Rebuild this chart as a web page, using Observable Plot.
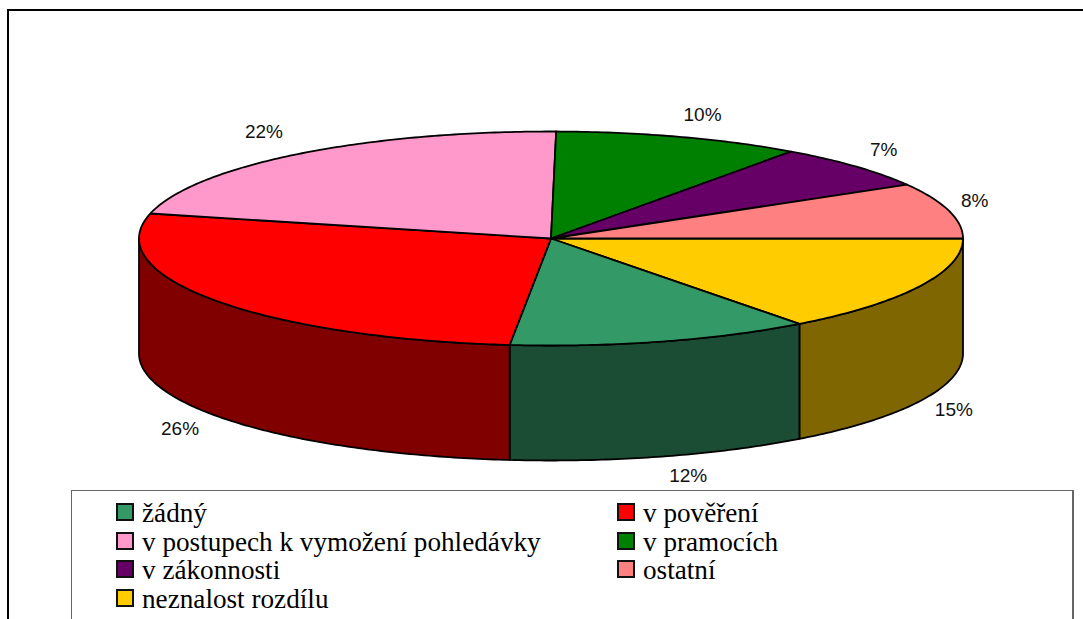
<!DOCTYPE html>
<html>
<head>
<meta charset="utf-8">
<script src="https://cdn.jsdelivr.net/npm/d3@7"></script>
<script src="https://cdn.jsdelivr.net/npm/@observablehq/plot@0.6"></script>
<style>
html,body{margin:0;padding:0;background:#fff;overflow:hidden;width:1083px;height:619px}
#frame{position:absolute;left:7px;top:9px;width:1200px;height:640px;border:2px solid #000;border-bottom:none;box-sizing:border-box;pointer-events:none}
#chart{position:absolute;left:0;top:0}
#legend{position:absolute;left:71px;top:490px;width:1003px;height:140px;border:solid #666;border-width:1.5px 2px 0 1.5px;box-sizing:border-box;background:#fff;font-family:"Liberation Serif",serif;font-size:27.2px;color:#000}
.item{position:absolute;height:29px;line-height:29px;white-space:nowrap}
.sw{position:absolute;left:0;top:4px;width:14px;height:14px;border:2px solid #111;box-sizing:content-box}
.item span.t{position:absolute;left:26px;top:0}
</style>
</head>
<body>
<div id="chart"></div>
<div id="legend"></div>
<div id="frame"></div>
<script>
// Slices, clockwise from the 3 o'clock position
const categories = ["neznalost rozdílu","žádný","v pověření","v postupech k vymožení pohledávky","v pramocích","v zákonnosti","ostatní"];
const shares     = [14.7, 11.9, 27.15, 21.45, 9.7, 6.7, 8.4];   // drawn share of the circle
const percentLabels = ["15%","12%","26%","22%","10%","7%","8%"]; // printed labels
const topColors  = ["#ffcc00","#339966","#ff0000","#ff99cc","#008000","#660066","#ff8080"];
const sideColors = ["#806600","#1a4d33","#800000","#804d66","#004000","#330033","#804040"];
const legendOrder = ["žádný","v pověření","v postupech k vymožení pohledávky","v pramocích","v zákonnosti","ostatní","neznalost rozdílu"];
const labelNudgeX = [34, 26, -35, -34, 23, 28, 26];
const labelNudgeY = [9, 19, 13, -22, -22, -17, -10];

// Layout (pie geometry in unit-ellipse coordinates)
const depth = 115 / 107;
const total = d3.sum(shares);
const toAngle = s => s / total * 2 * Math.PI;
const pt = a => [Math.cos(a), -Math.sin(a)];

let acc = 0;
const slices = shares.map((s, i) => {
  const a0 = toAngle(acc); acc += s; const a1 = toAngle(acc);
  return {i, a0, a1, mid: (a0 + a1) / 2};
});
const arc = (a0, a1) => {
  const n = Math.max(2, Math.ceil((a1 - a0) * 80));
  return d3.range(n + 1).map(k => a0 + (a1 - a0) * k / n);
};

const topRows = [], sideRows = [];
for (const s of slices) {
  const top = [[0, 0], ...arc(s.a0, s.a1).map(pt), [0, 0]];
  for (const [x, y] of top) topRows.push({x, y, key: "t" + s.i, color: topColors[s.i]});
  const b0 = s.a0, b1 = Math.min(s.a1, Math.PI);
  if (b0 < b1) {
    const a = arc(b0, b1);
    const ring = [...a.map(pt), ...a.slice().reverse().map(v => { const [x, y] = pt(v); return [x, y - depth]; })];
    ring.push(ring[0]);
    for (const [x, y] of ring) sideRows.push({x, y, key: "s" + s.i, color: sideColors[s.i]});
  }
}

const faceOpts = {x: "x", y: "y", z: "key", fill: "color", stroke: "#000", strokeWidth: 1.8, strokeLinejoin: "round", curve: "linear"};
const labelMarks = slices.map(s => {
  const [x, y] = pt(s.mid);
  const front = s.mid < Math.PI;
  return Plot.text([percentLabels[s.i]], {
    x: () => x, y: () => front ? y - depth : y, text: d => d,
    dx: labelNudgeX[s.i], dy: labelNudgeY[s.i],
    fontFamily: "Liberation Sans, Arial, sans-serif", fontSize: 19, fill: "#111", textAnchor: "middle"
  });
});

const plot = Plot.plot({
  width: 1083, height: 490,
  marginTop: 0, marginRight: 0, marginBottom: 0, marginLeft: 0,
  x: {domain: [-1, 1], range: [138.5, 962.5], axis: null},
  y: {domain: [-1, 1], range: [345, 131], axis: null},
  style: {background: "transparent"},
  marks: [
    Plot.line(sideRows, faceOpts),
    Plot.line(topRows, faceOpts),
    ...labelMarks
  ]
});
document.getElementById("chart").appendChild(plot);

// Legend
const legend = document.getElementById("legend");
legendOrder.forEach((name, k) => {
  const col = k % 2, row = Math.floor(k / 2);
  const el = document.createElement("div");
  el.className = "item";
  el.style.left = (col ? 545 : 44) + "px";
  el.style.top = (8 + row * 28.7) + "px";
  const sw = document.createElement("div");
  sw.className = "sw";
  sw.style.background = topColors[categories.indexOf(name)];
  const t = document.createElement("span");
  t.className = "t";
  t.textContent = name;
  el.append(sw, t);
  legend.appendChild(el);
});
</script>
</body>
</html>
